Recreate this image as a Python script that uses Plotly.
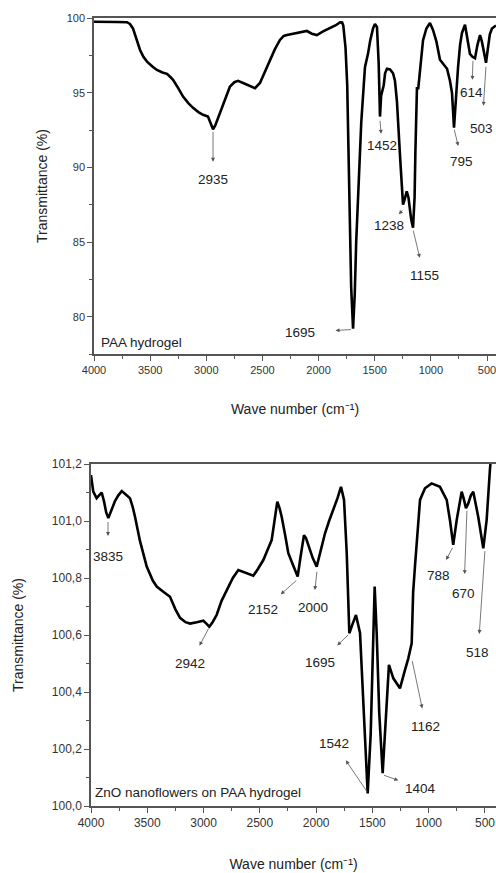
import plotly.graph_objects as go

# ---------------- data: PAA hydrogel (top panel) ----------------
paa_wavenumber = [4000, 3900, 3800, 3706, 3680, 3653, 3620, 3590, 3560, 3528, 3480, 3440, 3390, 3350,
                  3320, 3296, 3250, 3207, 3160, 3118, 3070, 3029, 2985, 2960, 2940, 2920, 2905, 2880,
                  2851, 2820, 2790, 2750, 2717, 2672, 2610, 2566, 2522, 2480, 2433, 2390, 2344, 2310,
                  2281, 2220, 2166, 2130, 2104, 2060, 2015, 1960, 1898, 1850, 1809, 1790, 1780, 1760,
                  1745, 1735, 1722, 1710, 1693, 1678, 1665, 1649, 1620, 1587, 1560, 1540, 1515, 1498,
                  1480, 1465, 1453, 1443, 1435, 1420, 1408, 1391, 1364, 1337, 1320, 1302, 1275, 1255,
                  1248, 1235, 1215, 1200, 1175, 1159, 1145, 1138, 1124, 1112, 1090, 1070, 1040, 1008,
                  981, 950, 919, 880, 856, 830, 812, 794, 775, 758, 740, 723, 696, 680, 652, 630, 607,
                  585, 562, 545, 525, 509, 495, 475, 456, 420]
paa_transmittance = [99.75, 99.72, 99.73, 99.72, 99.6, 99.3, 98.6, 97.86, 97.4, 97.08, 96.75, 96.52, 96.35, 96.26,
                     96.05, 95.86, 95.3, 94.74, 94.3, 93.98, 93.7, 93.52, 93.4, 92.9, 92.55, 92.8, 93.1, 93.7,
                     94.3, 94.9, 95.4, 95.7, 95.79, 95.65, 95.45, 95.3, 95.65, 96.4, 97.19, 97.9, 98.53, 98.8,
                     98.86, 98.95, 99.02, 99.1, 99.13, 98.95, 98.86, 99.1, 99.31, 99.5, 99.71, 99.7, 99.5, 98.0,
                     95.5, 91.0, 87.0, 82.0, 79.2, 81.5, 85.0, 87.8, 93.0, 96.7, 97.6, 98.5, 99.3, 99.6,
                     99.4, 97.0, 93.4, 94.8, 95.0, 95.5, 96.3, 96.6, 96.55, 96.3, 95.8, 94.4, 90.8, 88.0,
                     87.5, 87.8, 88.4, 88.0, 86.5, 85.96, 88.0, 91.0, 95.3, 95.3, 97.3, 98.5, 99.3, 99.67,
                     99.2, 98.4, 97.2, 96.8, 96.6, 95.8, 95.0, 92.65, 95.0, 96.7, 98.2, 99.0, 99.55, 98.8, 97.6, 97.4, 97.3,
                     98.2, 98.86, 98.4, 97.6, 97.0, 97.8, 98.9, 99.3, 99.5]

# ---------------- data: ZnO nanoflowers on PAA hydrogel (bottom panel) ----------------
zno_wavenumber = [4000, 3980, 3950, 3905, 3885, 3865, 3846, 3816, 3787, 3757, 3727, 3683, 3654, 3630,
                  3609, 3565, 3505, 3450, 3416, 3358, 3298, 3250, 3209, 3160, 3120, 3060, 3002, 2975,
                  2949, 2920, 2884, 2840, 2795, 2740, 2691, 2650, 2617, 2558, 2520, 2469, 2430, 2395,
                  2370, 2345, 2325, 2306, 2275, 2247, 2200, 2164, 2140, 2108, 2090, 2070, 2030, 1995,
                  1960, 1921, 1885, 1847, 1810, 1779, 1752, 1728, 1705, 1675, 1646, 1610, 1575, 1542,
                  1515, 1498, 1480, 1462, 1439, 1409, 1388, 1353, 1314, 1280, 1255, 1211, 1181, 1151,
                  1138, 1122, 1100, 1077, 1033, 974, 900, 840, 810, 782, 751, 707, 690, 669, 650, 625,
                  604, 560, 515, 485, 456, 430]
zno_transmittance = [101.161, 101.103, 101.08, 101.10, 101.07, 101.03, 101.01, 101.04, 101.07, 101.09, 101.105, 101.09, 101.08, 101.05,
                     101.015, 100.93, 100.84, 100.79, 100.77, 100.752, 100.734, 100.69, 100.66, 100.645, 100.64, 100.645, 100.65, 100.64,
                     100.629, 100.645, 100.67, 100.72, 100.758, 100.80, 100.828, 100.822, 100.816, 100.808, 100.83, 100.863, 100.90, 100.933,
                     101.0, 101.068, 101.045, 101.015, 100.95, 100.887, 100.84, 100.805, 100.87, 100.95, 100.94, 100.916, 100.87, 100.84,
                     100.9, 100.957, 101.0, 101.04, 101.08, 101.12, 101.074, 100.887, 100.606, 100.64, 100.67, 100.607, 100.313, 100.044,
                     100.255, 100.547, 100.77, 100.607, 100.325, 100.115, 100.255, 100.495, 100.448, 100.425, 100.413, 100.477, 100.518, 100.571,
                     100.75, 100.84, 100.97, 101.074, 101.115, 101.132, 101.12, 101.074, 101.0, 100.916, 101.004, 101.103, 101.08, 101.045, 101.06, 101.09,
                     101.103, 101.015, 100.904, 101.004, 101.18, 101.3]

# ---------------- tick labels ----------------
x_tick_values = [4000, 3500, 3000, 2500, 2000, 1500, 1000, 500]
x_tick_labels = ["4000", "3500", "3000", "2500", "2000", "1500", "1000", "500"]
paa_y_tick_values = [80, 85, 90, 95, 100]
paa_y_tick_labels = ["80", "85", "90", "95", "100"]
zno_y_tick_values = [100.0, 100.2, 100.4, 100.6, 100.8, 101.0, 101.2]
zno_y_tick_labels = ["100,0", "100,2", "100,4", "100,6", "100,8", "101,0", "101,2"]

# peak labels: (text, label position, arrow start on the curve, gap in px between label and arrow head)
paa_peaks = [
    ("2935", (2940, 89.17), (2940, 92.45), 9),
    ("1452", (1435, 91.44), (1453, 93.18), 3),
    ("795", (723, 90.37), (794, 92.6), 7),
    ("614", (634, 94.99), (625, 97.2), 4),
    ("503", (545, 92.58), (509, 96.8), 14),
    ("1238", (1373, 86.1), (1248, 87.17), 3),
    ("1155", (1061, 82.75), (1159, 85.83), 9),
    ("1695", (2165, 78.94), (1702, 79.14), 19),
]
zno_peaks = [
    ("3835", (3849, 100.877), (3849, 101.0), 11),
    ("2942", (3121, 100.50), (2952, 100.625), 10),
    ("2152", (2472, 100.688), (2170, 100.793), 10),
    ("2000", (2028, 100.698), (1992, 100.825), 8),
    ("788", (917, 100.81), (784, 100.909), 7),
    ("670", (687, 100.747), (660, 101.039), 10),
    ("518", (562, 100.537), (500, 100.898), 10),
    ("1695", (1966, 100.505), (1708, 100.603), 11),
    ("1162", (1024, 100.28), (1148, 100.512), 9),
    ("1542", (1841, 100.221), (1540, 100.046), 10),
    ("1404", (1077, 100.063), (1406, 100.109), 5),
]

FONT = "Liberation Sans, Arial, sans-serif"
W, H = 496, 873


def fx(px):
    return px / W


def fy(py):
    return 1 - py / H


fig = go.Figure()
fig.add_trace(go.Scatter(x=paa_wavenumber, y=paa_transmittance, mode="lines",
                         line=dict(color="black", width=2.6), xaxis="x", yaxis="y",
                         name="PAA hydrogel", showlegend=False))
fig.add_trace(go.Scatter(x=zno_wavenumber, y=zno_transmittance, mode="lines",
                         line=dict(color="black", width=2.6), xaxis="x2", yaxis="y2",
                         name="ZnO nanoflowers on PAA hydrogel", showlegend=False))

annotations = []


def add_peaks(peaks, xref, yref, size):
    for label, (tx, ty), (cx, cy), gap in peaks:
        annotations.append(dict(x=cx, y=cy, ax=tx, ay=ty, xref=xref, yref=yref,
                                axref=xref, ayref=yref, text=label, showarrow=True,
                                arrowside="start", startarrowhead=2, startarrowsize=1.0,
                                arrowwidth=0.8, arrowcolor="#555",
                                standoff=1, startstandoff=gap,
                                font=dict(family=FONT, size=size, color="#222")))


add_peaks(paa_peaks, "x", "y", 13.5)
add_peaks(zno_peaks, "x2", "y2", 13.5)

annotations.append(dict(x=3955, y=78.28, xref="x", yref="y", text="PAA hydrogel",
                        xanchor="left", showarrow=False,
                        font=dict(family=FONT, size=13.5, color="#222")))
annotations.append(dict(x=3982, y=100.046, xref="x2", yref="y2",
                        text="ZnO nanoflowers on PAA hydrogel",
                        xanchor="left", showarrow=False,
                        font=dict(family=FONT, size=13.5, color="#222")))

axis_common = dict(showgrid=False, zeroline=False, showline=True, linecolor="#555",
                   linewidth=1.5, ticks="outside", ticklen=5, tickwidth=1.2,
                   tickcolor="#555", automargin=False, ticklabeloverflow="allow")

x_title = dict(text="Wave number (cm\u207b\u00b9)", font=dict(family=FONT, size=14, color="#222"))
y_title = dict(text="Transmittance (%)", font=dict(family=FONT, size=14, color="#222"))

fig.update_layout(
    width=W, height=H,
    margin=dict(l=0, r=0, t=0, b=0),
    paper_bgcolor="white", plot_bgcolor="white",
    showlegend=False,
    hovermode=False,
    annotations=annotations,
    xaxis=dict(**axis_common, domain=[fx(94), 1], range=[4000, 420], anchor="y",
               mirror=True, tickvals=x_tick_values, ticktext=x_tick_labels,
               minor=dict(dtick=250, tick0=0, ticks="outside", ticklen=3, tickcolor="#555"),
               tickfont=dict(family=FONT, size=11, color="#333"),
               title=dict(**x_title, standoff=29)),
    yaxis=dict(**axis_common, domain=[fy(354), fy(18)], range=[77.5, 100], anchor="x",
               tickvals=paa_y_tick_values, ticktext=paa_y_tick_labels,
               minor=dict(dtick=2.5, tick0=0, ticks="outside", ticklen=3, tickcolor="#555"),
               tickfont=dict(family=FONT, size=11, color="#333"),
               title=dict(**y_title, standoff=16)),
    xaxis2=dict(**axis_common, domain=[fx(91), 1], range=[4000, 402], anchor="y2",
                mirror=True, tickvals=x_tick_values, ticktext=x_tick_labels,
                minor=dict(dtick=250, tick0=0, ticks="outside", ticklen=3, tickcolor="#555"),
                tickfont=dict(family=FONT, size=12, color="#333"),
                title=dict(**x_title, standoff=30)),
    yaxis2=dict(**axis_common, domain=[fy(806), fy(464)], range=[100.0, 101.2], anchor="x2",
                tickvals=zno_y_tick_values, ticktext=zno_y_tick_labels,
                minor=dict(dtick=0.1, tick0=0, ticks="outside", ticklen=3, tickcolor="#555"),
                tickfont=dict(family=FONT, size=12, color="#333"),
                title=dict(**y_title, standoff=25)),
)

# remove the browser's default page margin so the figure sits at the window's top-left corner
fig.write_html("out.html",
               config={"displayModeBar": False},
               post_script="document.body.style.margin='0';"
                           "document.body.style.overflow='hidden';"
                           "document.documentElement.style.overflow='hidden';")
